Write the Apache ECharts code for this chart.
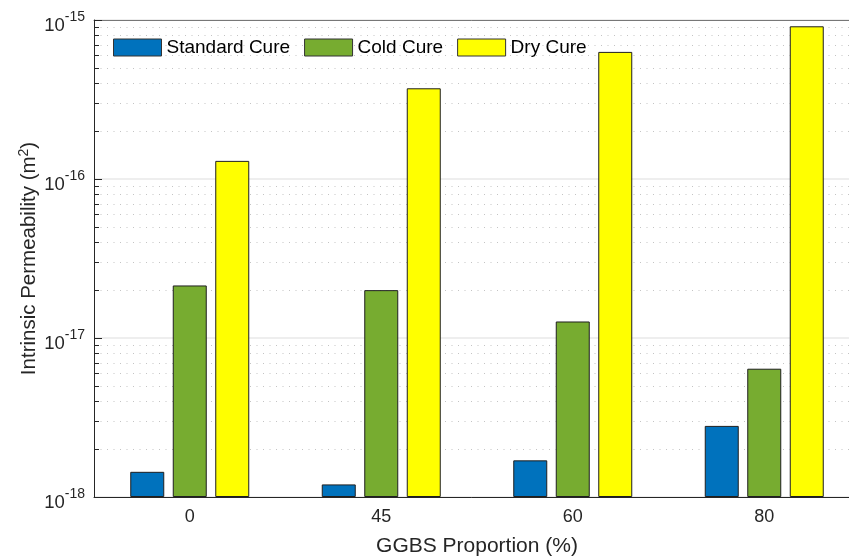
<!DOCTYPE html>
<html>
<head>
<meta charset="utf-8">
<script src="https://cdn.jsdelivr.net/npm/echarts@6/dist/echarts.min.js"></script>
<style>html,body{margin:0;padding:0;background:#fff;overflow:hidden}#c{width:849px;height:557px}</style>
</head>
<body>
<div id="c"></div>
<script>
// Values in units of 1e-18 m^2
const UNIT_EXP = -18;
const categories = ['0', '45', '60', '80'];
const seriesNames = ['Standard Cure', 'Cold Cure', 'Dry Cure'];
const standardCure = [1.44, 1.20, 1.70, 2.80];
const coldCure = [21.4, 20.0, 12.7, 6.41];
const dryCure = [130, 372, 630, 913];
const yTickValues = [1, 10, 100, 1000];
const minorValues = [2,3,4,5,6,7,8,9,20,30,40,50,60,70,80,90,200,300,400,500,600,700,800,900];

const FONT = '"Liberation Sans", Arial, Helvetica, sans-serif';
const colors = ['#0072BD', '#77AC30', '#FFFF00'];
const chart = echarts.init(document.getElementById('c'), null, {renderer: 'canvas'});

const barCommon = {
  type: 'bar', barWidth: 34, barGap: '25%',
  itemStyle: {borderColor: '#1f1f1f', borderWidth: 1}
};

chart.setOption({
  animation: false,
  backgroundColor: '#fff',
  textStyle: {fontFamily: FONT},
  legend: {
    left: 113, top: 38, padding: 0, itemWidth: 48, itemHeight: 17, itemGap: 14,
    icon: 'rect',
    data: seriesNames,
    textStyle: {fontFamily: FONT, fontSize: 19, color: '#000'},
    itemStyle: {borderColor: '#333', borderWidth: 1}
  },
  grid: {left: 94, top: 20, width: 766, height: 477, containLabel: false, outerBoundsMode: 'none'},
  xAxis: [{
    type: 'category', data: categories, position: 'bottom',
    boundaryGap: true,
    name: 'GGBS Proportion (%)', nameLocation: 'middle', nameGap: 39, nameMoveOverlap: false,
    nameTextStyle: {fontFamily: FONT, fontSize: 21, color: '#262626'},
    axisLine: {lineStyle: {color: '#262626', width: 1}},
    axisTick: {inside: true, alignWithLabel: true, length: 8, lineStyle: {color: '#262626'}},
    axisLabel: {fontFamily: FONT, fontSize: 18, color: '#262626', margin: 11},
    splitLine: {show: false}
  }, {
    type: 'category', data: categories, position: 'top',
    boundaryGap: true,
    axisLine: {lineStyle: {color: '#777', width: 1}},
    axisTick: {inside: true, alignWithLabel: true, length: 8, lineStyle: {color: '#555'}},
    axisLabel: {show: false},
    splitLine: {show: false}
  }],
  yAxis: {
    type: 'log', logBase: 10, min: yTickValues[0], max: yTickValues[yTickValues.length - 1], interval: 1,
    name: 'Intrinsic Permeability (m{s|2})', nameLocation: 'middle', nameGap: 53, nameMoveOverlap: false,
    nameTextStyle: {fontFamily: FONT, fontSize: 20.5, color: '#262626',
      rich: {s: {fontFamily: FONT, fontSize: 14, color: '#262626', padding: [0, 0, 10, 0]}}},
    axisLine: {show: true, lineStyle: {color: '#262626', width: 1}},
    axisTick: {show: true, inside: true, length: 8, lineStyle: {color: '#262626'}},
    axisLabel: {
      margin: 9, color: '#262626',
      formatter: function (v) {
        const e = Math.round(Math.log10(v)) + UNIT_EXP;
        return '{b|10}{s|' + e + '}';
      },
      rich: {
        b: {fontFamily: FONT, fontSize: 18.5, lineHeight: 18, color: '#262626', padding: [12, 0, 0, 0]},
        s: {fontFamily: FONT, fontSize: 14, lineHeight: 14, color: '#262626', padding: [5, 0, 11, 0]}
      }
    },
    splitLine: {show: true, lineStyle: {color: '#e8e8e8', width: 1.5}}
  },
  series: [
    {
      type: 'custom', name: 'minor', silent: true, z: 0,
      coordinateSystem: 'cartesian2d',
      data: minorValues.map(v => [0, v]),
      renderItem: function (params, api) {
        const cs = params.coordSys;
        const y = Math.round(api.coord([0, api.value(1)])[1]) + 0.5;
        return {
          type: 'group', children: [
            {type: 'line', shape: {x1: cs.x, y1: y, x2: cs.x + cs.width, y2: y},
             style: {stroke: '#c4c4c4', lineWidth: 1, lineDash: [1, 5.5]}},
            {type: 'line', shape: {x1: cs.x, y1: y, x2: cs.x + 5, y2: y},
             style: {stroke: '#262626', lineWidth: 1}}
          ]
        };
      },
      legendHoverLink: false
    },
    Object.assign({}, barCommon, {name: seriesNames[0], data: standardCure, itemStyle: Object.assign({}, barCommon.itemStyle, {color: colors[0]})}),
    Object.assign({}, barCommon, {name: seriesNames[1], data: coldCure, itemStyle: Object.assign({}, barCommon.itemStyle, {color: colors[1]})}),
    Object.assign({}, barCommon, {name: seriesNames[2], data: dryCure, itemStyle: Object.assign({}, barCommon.itemStyle, {color: colors[2]})})
  ]
});
</script>
</body>
</html>
